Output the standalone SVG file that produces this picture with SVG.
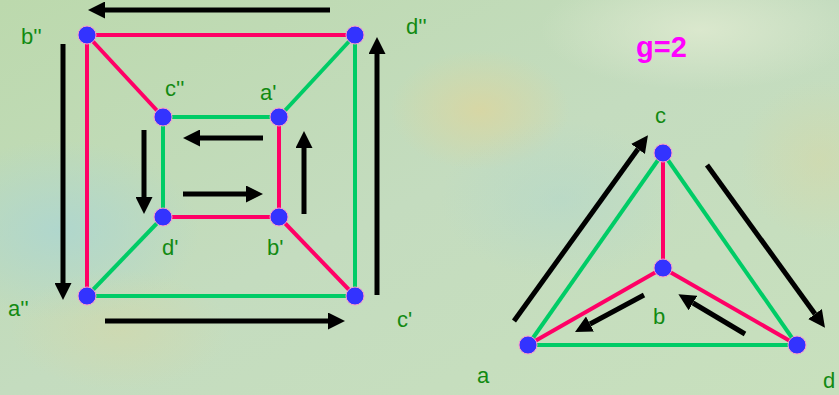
<svg xmlns="http://www.w3.org/2000/svg" width="839" height="395" viewBox="0 0 839 395">
<defs>
<linearGradient id="bg" x1="0" y1="0" x2="1" y2="1">
<stop offset="0" stop-color="#bcd9ad"/>
<stop offset="0.5" stop-color="#c4dcbf"/>
<stop offset="1" stop-color="#c8e0bd"/>
</linearGradient>
<radialGradient id="blue1" cx="0.5" cy="0.5" r="0.5">
<stop offset="0" stop-color="#aed6cf" stop-opacity="0.9"/>
<stop offset="1" stop-color="#aed6cf" stop-opacity="0"/>
</radialGradient>
<radialGradient id="yel" cx="0.5" cy="0.5" r="0.5">
<stop offset="0" stop-color="#d9d6a2" stop-opacity="0.9"/>
<stop offset="1" stop-color="#d9d6a2" stop-opacity="0"/>
</radialGradient>
<radialGradient id="lt" cx="0.5" cy="0.5" r="0.5">
<stop offset="0" stop-color="#dde9cf" stop-opacity="0.9"/>
<stop offset="1" stop-color="#dde9cf" stop-opacity="0"/>
</radialGradient>
<marker id="ah" viewBox="0 0 10 10" refX="0" refY="5" markerWidth="3.4" markerHeight="3.4" orient="auto" markerUnits="strokeWidth">
<path d="M0,0 L10,5 L0,10 z" fill="#000"/>
</marker>
<style>
.g{stroke:#00cc66;stroke-width:4;fill:none}
.r{stroke:#ff0066;stroke-width:4;fill:none}
.ar{stroke:#000;stroke-width:5;fill:none;marker-end:url(#ah)}
.n{fill:#3333ff;stroke:#ff99cc;stroke-width:1}
.t{font-family:"Liberation Sans",Arial,sans-serif;font-size:22px;fill:#128a12}
.gl{font-family:"Liberation Sans",Arial,sans-serif;font-size:29px;font-weight:bold;fill:#ff00ff}
</style>
</defs>
<rect width="839" height="395" fill="url(#bg)"/>
<ellipse cx="60" cy="230" rx="140" ry="90" fill="url(#blue1)"/>
<ellipse cx="480" cy="110" rx="90" ry="60" fill="url(#yel)"/>
<ellipse cx="120" cy="330" rx="110" ry="60" fill="url(#yel)" opacity="0.5"/>
<ellipse cx="700" cy="30" rx="160" ry="60" fill="url(#lt)"/>
<ellipse cx="560" cy="200" rx="120" ry="80" fill="url(#blue1)" opacity="0.5"/>
<ellipse cx="820" cy="160" rx="80" ry="80" fill="url(#yel)" opacity="0.5"/>

<g id="edges">
<line class="r" x1="87" y1="35" x2="355" y2="35"/>
<line class="r" x1="87" y1="35" x2="87" y2="296"/>
<line class="r" x1="87" y1="35" x2="163" y2="117"/>
<line class="g" x1="355" y1="35" x2="279" y2="117"/>
<line class="g" x1="355" y1="35" x2="355" y2="296"/>
<line class="g" x1="163" y1="117" x2="279" y2="117"/>
<line class="g" x1="163" y1="117" x2="163" y2="217"/>
<line class="r" x1="279" y1="117" x2="279" y2="217"/>
<line class="r" x1="163" y1="217" x2="279" y2="217"/>
<line class="g" x1="163" y1="217" x2="87" y2="296"/>
<line class="r" x1="279" y1="217" x2="355" y2="296"/>
<line class="g" x1="87" y1="296" x2="355" y2="296"/>

<line class="g" x1="528" y1="345" x2="663" y2="153"/>
<line class="g" x1="663" y1="153" x2="797" y2="345"/>
<line class="g" x1="528" y1="345" x2="797" y2="345"/>
<line class="r" x1="663" y1="153" x2="663" y2="268"/>
<line class="r" x1="528" y1="345" x2="663" y2="268"/>
<line class="r" x1="663" y1="268" x2="797" y2="345"/>
</g>

<g id="arrows">
<line class="ar" x1="330" y1="10" x2="105" y2="10"/>
<line class="ar" x1="63" y1="44" x2="63" y2="283"/>
<line class="ar" x1="105" y1="321" x2="328" y2="321"/>
<line class="ar" x1="377" y1="295" x2="377" y2="54"/>
<line class="ar" x1="263" y1="138" x2="200" y2="138"/>
<line class="ar" x1="144" y1="130" x2="144" y2="197"/>
<line class="ar" x1="183" y1="194" x2="246" y2="194"/>
<line class="ar" x1="304" y1="214" x2="304" y2="148"/>
<line class="ar" x1="514" y1="321" x2="638" y2="149"/>
<line class="ar" x1="707" y1="165" x2="815" y2="314"/>
<line class="ar" x1="644" y1="295" x2="590" y2="324"/>
<line class="ar" x1="745" y1="334" x2="693" y2="303"/>
</g>

<g id="node-b2"><circle class="n" cx="87" cy="35" r="9"/><text class="t" x="21" y="44">b''</text></g>
<g id="node-d2"><circle class="n" cx="355" cy="35" r="9"/><text class="t" x="406" y="34">d''</text></g>
<g id="node-c2"><circle class="n" cx="163" cy="117" r="9"/><text class="t" x="165" y="96">c''</text></g>
<g id="node-a1"><circle class="n" cx="279" cy="117" r="9"/><text class="t" x="260" y="100">a'</text></g>
<g id="node-d1"><circle class="n" cx="163" cy="217" r="9"/><text class="t" x="162" y="255">d'</text></g>
<g id="node-b1"><circle class="n" cx="279" cy="217" r="9"/><text class="t" x="267" y="255">b'</text></g>
<g id="node-a2"><circle class="n" cx="87" cy="296" r="9"/><text class="t" x="8" y="316">a''</text></g>
<g id="node-c1"><circle class="n" cx="355" cy="296" r="9"/><text class="t" x="397" y="327">c'</text></g>

<g id="node-c"><circle class="n" cx="663" cy="153" r="9"/><text class="t" x="655" y="123">c</text></g>
<g id="node-b"><circle class="n" cx="663" cy="268" r="9"/><text class="t" x="653" y="324">b</text></g>
<g id="node-a"><circle class="n" cx="528" cy="345" r="9"/><text class="t" x="477" y="383">a</text></g>
<g id="node-d"><circle class="n" cx="797" cy="345" r="9"/><text class="t" x="823" y="388">d</text></g>

<text class="gl" x="636" y="57">g=2</text>
</svg>
